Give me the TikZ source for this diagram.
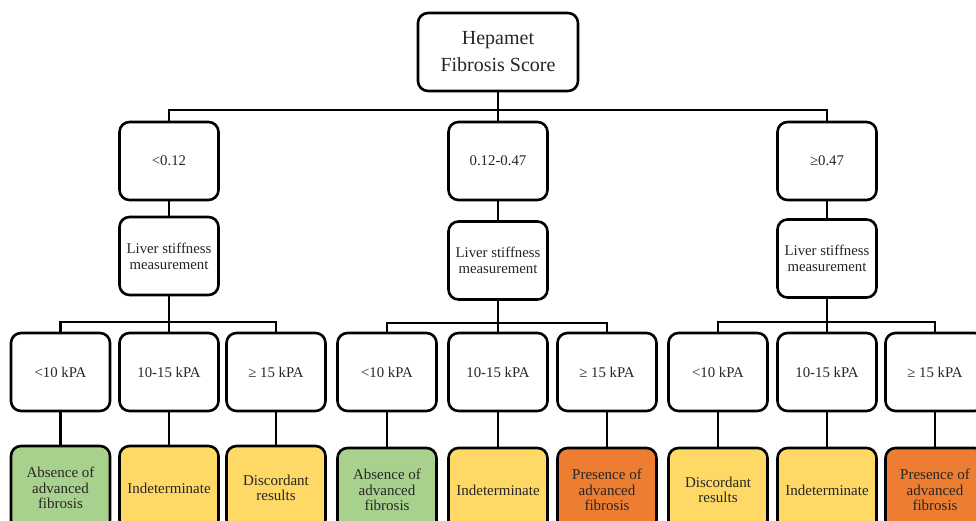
\documentclass[tikz,border=0pt]{standalone}
\usepackage{fontspec}
\setmainfont{Liberation Serif}
\usetikzlibrary{calc}
\definecolor{gfill}{HTML}{A9D18E}
\definecolor{yfill}{HTML}{FFD966}
\definecolor{ofill}{HTML}{ED7D31}
\definecolor{txt}{HTML}{262626}
\tikzset{
  box/.style={draw=black, line width=2.6pt, rounded corners=10pt, fill=white,
    align=center, text=txt, inner sep=0pt, minimum width=99pt, minimum height=78pt,
    font=\fontsize{14.8}{16}\selectfont},
  topbox/.style={box, minimum width=160pt, minimum height=78pt,
    font=\fontsize{20}{27}\selectfont},
  resbox/.style={box, minimum height=84pt, font=\fontsize{15}{15.5}\selectfont},
  conn/.style={line width=2.4pt, line join=miter},
}
\begin{document}
\begin{tikzpicture}[x=1pt,y=-1pt]
\useasboundingbox (0,0) rectangle (976,521);
\clip (0,0) rectangle (976,521);
% top
\node[topbox] (top) at (498,52) {Hepamet\\Fibrosis Score};
% level 2
\node[box] (a) at (169,161) {<0.12};
\node[box] (b) at (498,161) {0.12-0.47};
\node[box] (c) at (827,161) {≥0.47};
% liver stiffness
\node[box] (la) at (169,256) {Liver stiffness\\measurement};
\node[box] (lb) at (498,260.5) {Liver stiffness\\measurement};
\node[box] (lc) at (827,258.5) {Liver stiffness\\measurement};
% level 3
\node[box] (a1) at (60.5,372) {<10 kPA};
\node[box] (a2) at (169,372) {10-15 kPA};
\node[box] (a3) at (276,372) {≥ 15 kPA};
\node[box] (b1) at (387,372) {<10 kPA};
\node[box] (b2) at (498,372) {10-15 kPA};
\node[box] (b3) at (607,372) {≥ 15 kPA};
\node[box] (c1) at (718,372) {<10 kPA};
\node[box] (c2) at (827,372) {10-15 kPA};
\node[box] (c3) at (935,372) {≥ 15 kPA};
% results
\node[resbox, fill=gfill] (ra1) at (60.5,488) {Absence of\\advanced\\fibrosis};
\node[resbox, fill=yfill] (ra2) at (169,488) {Indeterminate};
\node[resbox, fill=yfill] (ra3) at (276,488) {Discordant\\results};
\node[resbox, fill=gfill] (rb1) at (387,490) {Absence of\\advanced\\fibrosis};
\node[resbox, fill=yfill] (rb2) at (498,490) {Indeterminate};
\node[resbox, fill=ofill] (rb3) at (607,490) {Presence of\\advanced\\fibrosis};
\node[resbox, fill=yfill] (rc1) at (718,490) {Discordant\\results};
\node[resbox, fill=yfill] (rc2) at (827,490) {Indeterminate};
\node[resbox, fill=ofill] (rc3) at (935,490) {Presence of\\advanced\\fibrosis};
% bus coordinates
\coordinate (bus0) at (0,110);
\coordinate (busa) at (0,322);
\coordinate (busb) at (0,323);
\coordinate (busc) at (0,322);
% connectors top -> level 2
\draw[conn] (top.south) -- (top.south |- bus0);
\draw[conn] (a.north) -- (a.north |- bus0) -- (c.north |- bus0) -- (c.north);
\draw[conn] (b.north) -- (b.north |- bus0);
% level 2 -> liver
\draw[conn] (a.south) -- (la.north);
\draw[conn] (b.south) -- (lb.north);
\draw[conn] (c.south) -- (lc.north);
% liver -> level 3
\draw[conn] (la.south) -- (la.south |- busa);
\draw[conn] (a1.north) -- (a1.north |- busa) -- (a3.north |- busa) -- (a3.north);
\draw[conn] (a2.north) -- (a2.north |- busa);
\draw[conn] (lb.south) -- (lb.south |- busb);
\draw[conn] (b1.north) -- (b1.north |- busb) -- (b3.north |- busb) -- (b3.north);
\draw[conn] (b2.north) -- (b2.north |- busb);
\draw[conn] (lc.south) -- (lc.south |- busc);
\draw[conn] (c1.north) -- (c1.north |- busc) -- (c3.north |- busc) -- (c3.north);
\draw[conn] (c2.north) -- (c2.north |- busc);
% level 3 -> results
\foreach \p/\q in {a1/ra1,a2/ra2,a3/ra3,b1/rb1,b2/rb2,b3/rb3,c1/rc1,c2/rc2,c3/rc3}
  \draw[conn] (\p.south) -- (\q.north);
\end{tikzpicture}
\end{document}
